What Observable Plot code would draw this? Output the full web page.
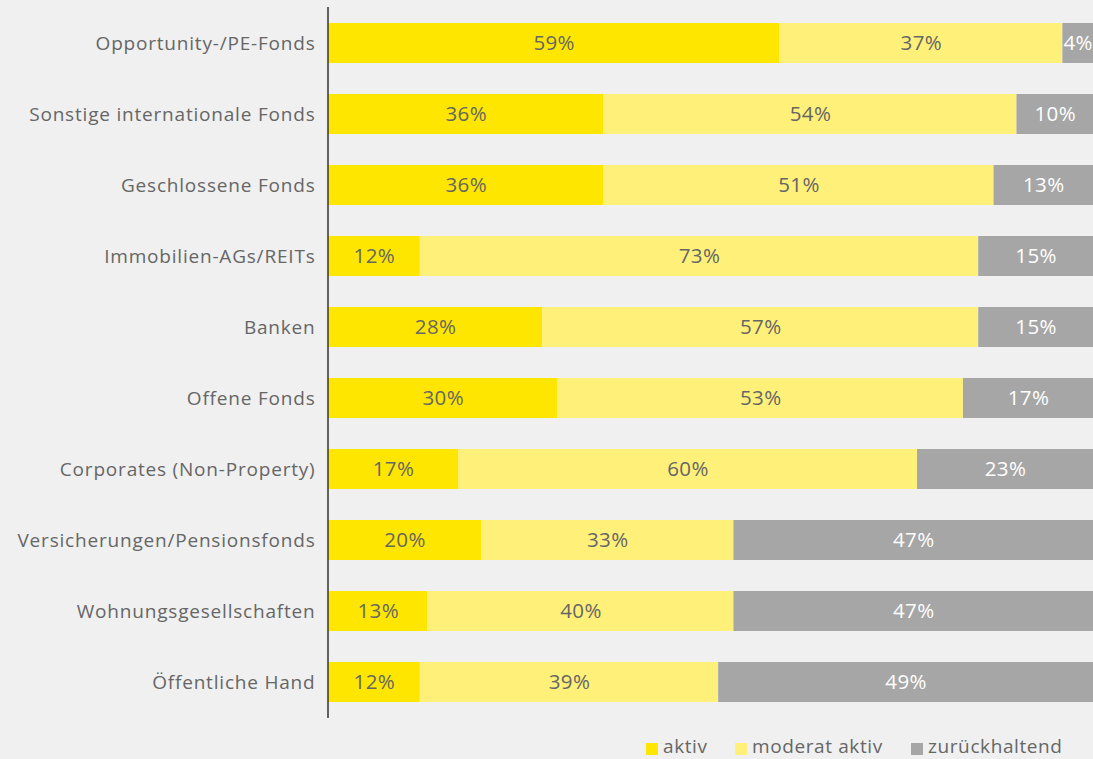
<!DOCTYPE html>
<html><head><meta charset="utf-8">
<script src="https://cdn.jsdelivr.net/npm/d3@7"></script>
<script src="https://cdn.jsdelivr.net/npm/@observablehq/plot@0.6"></script>
<style>
html,body{margin:0;padding:0;background:#f0f0f0;width:1093px;height:759px;overflow:hidden;font-family:"Open Sans",sans-serif;}
#chart{position:absolute;left:0;top:0;}
#legend{position:absolute;left:0;top:0;font-size:19px;color:#666;white-space:nowrap;letter-spacing:0.6px;}
#legend span.item{position:absolute;top:735px;display:inline-flex;align-items:center;line-height:22px;}
#legend i{display:inline-block;width:12px;height:12px;margin-right:5px;position:relative;top:3px;}
svg g[aria-label="y-axis tick label"] text{letter-spacing:0.8px;}
svg g[aria-label="text"] text{letter-spacing:0.4px;}
</style></head>
<body>
<div id="chart"></div>
<div id="legend"></div>
<script>
const categories = ["Opportunity-/PE-Fonds","Sonstige internationale Fonds","Geschlossene Fonds","Immobilien-AGs/REITs","Banken","Offene Fonds","Corporates (Non-Property)","Versicherungen/Pensionsfonds","Wohnungsgesellschaften","Öffentliche Hand"];
const aktiv = [59,36,36,12,28,30,17,20,13,12];
const moderatAktiv = [37,54,51,73,57,53,60,33,40,39];
const zurueckhaltend = [4,10,13,15,15,17,23,47,47,49];
const seriesNames = ["aktiv","moderat aktiv","zurückhaltend"];
const seriesColors = ["#ffe600","#fff07a","#a6a6a6"];
const labelColors = ["#666666","#666666","#ffffff"];

const seriesValues = [aktiv, moderatAktiv, zurueckhaltend];
const data = [];
categories.forEach((c,i)=>{
  seriesValues.forEach((vals,s)=>{
    data.push({cat:c, series:seriesNames[s], value:vals[i], lc:labelColors[s]});
  });
});

const chart = Plot.plot({
  width:1093, height:725,
  marginLeft:328, marginRight:0, marginTop:7, marginBottom:7,
  style:{background:"transparent", fontFamily:"Open Sans, sans-serif"},
  x:{domain:[0,100], axis:null},
  y:{domain:categories, paddingInner:0.44, paddingOuter:0.22, label:null, tickSize:0, tickPadding:13},
  color:{domain:seriesNames, range:seriesColors},
  marks:[
    Plot.barX(data, Plot.stackX({x:"value", y:"cat", fill:"series", z:"series"})),
    Plot.text(data, Plot.stackX({x:"value", y:"cat", z:"series", text:d=>d.value+"%", fill:"lc", fontSize:20.5})),
    Plot.axisY({tickSize:0, tickPadding:13, fontSize:19, fill:"#666", textAnchor:"end"}),
    Plot.ruleX([0], {stroke:"#333", strokeWidth:1.5, dx:-0.5})
  ]
});
document.getElementById("chart").appendChild(chart);

const legendX = [646, 735, 911];
const lg = document.getElementById("legend");
seriesNames.forEach((n,i)=>{
  const s=document.createElement("span"); s.className="item";
  s.style.left = legendX[i]+"px";
  s.innerHTML='<i style="background:'+seriesColors[i]+'"></i>'+n;
  lg.appendChild(s);
});
</script>
</body></html>
